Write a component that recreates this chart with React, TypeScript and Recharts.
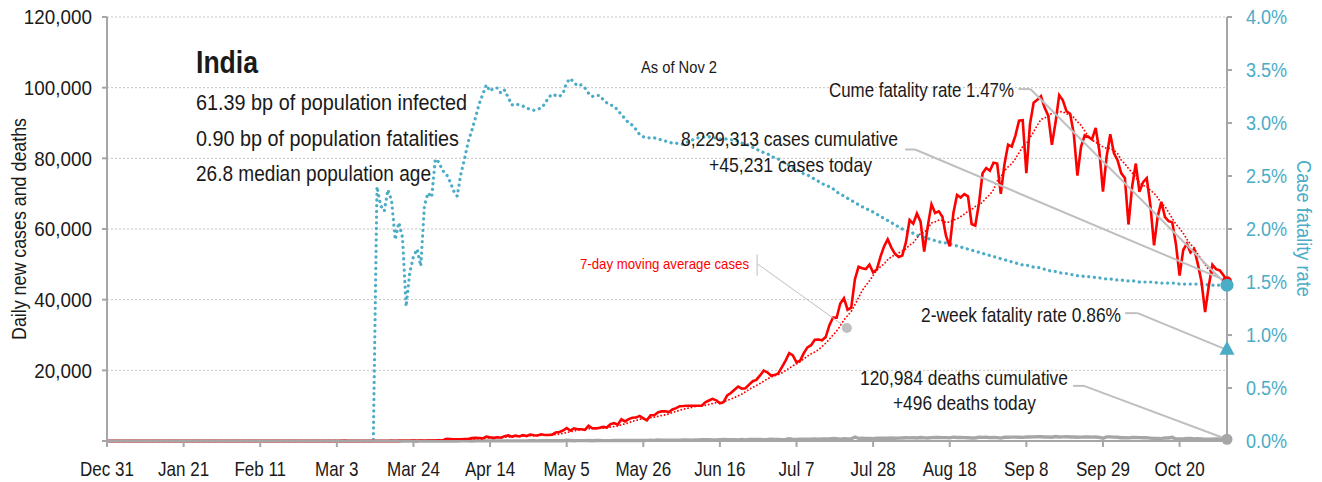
import { CartesianGrid, ComposedChart, Line, ReferenceDot, ReferenceLine, XAxis, YAxis } from "recharts";

const FONT = "'Liberation Sans', Arial, sans-serif";
const TEAL = "#4BACC6";
const RED = "#FF0000";
const GRAY = "#A6A6A6";
const LEADER = "#BFBFBF";
const INK = "#1a1a1a";

const tickLabels = ["Dec 31", "Jan 21", "Feb 11", "Mar 3", "Mar 24", "Apr 14", "May 5", "May 26", "Jun 16", "Jul 7", "Jul 28", "Aug 18", "Sep 8", "Sep 29", "Oct 20"];

// daily new cases, one value per day from Dec 31 to Nov 2
const cases = [
  0, 0, 0, 0, 0, 0, 0, 0, 0, 0,
  0, 0, 0, 0, 0, 0, 0, 0, 0, 0,
  0, 0, 0, 0, 0, 0, 0, 0, 0, 0,
  0, 1, 0, 0, 1, 1, 0, 0, 0, 0,
  0, 0, 0, 0, 0, 0, 0, 0, 0, 0,
  0, 0, 0, 0, 0, 0, 0, 0, 0, 0,
  0, 0, 0, 2, 1, 22, 2, 1, 3, 5,
  9, 15, 8, 11, 9, 20, 11, 6, 23, 14,
  38, 50, 86, 66, 103, 37, 121, 70, 160, 100,
  112, 227, 146, 601, 545, 478, 515, 506, 571, 565,
  813, 871, 854, 758, 1243, 1031, 886, 1061, 922, 1371,
  1580, 1239, 1537, 1292, 1667, 1408, 1835, 1607, 1568, 1902,
  1705, 1718, 1801, 2396, 2564, 2952, 3656, 2971, 3602, 3344,
  3339, 3175, 4311, 3592, 3562, 3726, 3991, 3808, 4794, 5049,
  4628, 6147, 5553, 6198, 6568, 6629, 7111, 6414, 5843, 7293,
  7300, 8105, 8380, 8392, 8171, 8909, 9304, 9851, 9887, 9971,
  9983, 9987, 9985, 9996, 10956, 11458, 11929, 11502, 10667, 10974,
  12881, 13586, 14516, 15413, 14821, 14933, 15968, 16922, 17296, 18552,
  19906, 19459, 18522, 18653, 19148, 20903, 22771, 24850, 24248, 22252,
  22752, 24879, 26506, 27114, 28637, 28701, 28498, 29429, 32695, 34956,
  34884, 38902, 40425, 37148, 37724, 45720, 49310, 48916, 48661, 49931,
  47703, 48513, 52123, 55079, 57118, 54736, 52972, 52050, 52509, 56282,
  62538, 61537, 64399, 62064, 53601, 60963, 66999, 64553, 65002, 63490,
  57981, 55079, 64531, 69652, 68898, 69878, 69239, 61408, 60975, 67151,
  75760, 77266, 76472, 78761, 78512, 69921, 78357, 83883, 83341, 86432,
  90632, 90802, 75809, 89706, 95735, 96551, 97570, 94372, 92071, 83809,
  90123, 97894, 96424, 93337, 92605, 86961, 75083, 83347, 86508, 86052,
  85362, 88600, 82170, 70589, 80472, 86821, 81484, 79476, 75829, 74442,
  61267, 72049, 78524, 70496, 73272, 74383, 66732, 55342, 63509, 67708,
  63371, 62212, 61871, 55722, 46790, 54044, 55838, 53370, 54366, 50129,
  45148, 36470, 43893, 49881, 48648, 48268, 46963, 45231,
];

// 7-day moving average of cases
const movingAvg = [
  0, 0, 0, 0, 0, 0, 0, 0, 0, 0,
  0, 0, 0, 0, 0, 0, 0, 0, 0, 0,
  0, 0, 0, 0, 0, 0, 0, 0, 0, 0,
  0, 0, 0, 0, 0, 0, 0, 0, 0, 0,
  0, 0, 0, 0, 0, 0, 0, 0, 0, 0,
  0, 0, 0, 0, 0, 0, 0, 0, 0, 0,
  0, 0, 0, 0, 0, 4, 4, 4, 4, 5,
  6, 5, 6, 7, 9, 11, 12, 11, 13, 13,
  17, 23, 35, 40, 54, 56, 67, 76, 92, 97,
  110, 120, 134, 202, 265, 324, 372, 434, 480, 540,
  570, 617, 671, 705, 811, 876, 922, 958, 965, 1039,
  1156, 1156, 1228, 1286, 1373, 1442, 1508, 1512, 1559, 1611,
  1670, 1678, 1734, 1814, 1951, 2148, 2399, 2580, 2849, 3069,
  3204, 3291, 3485, 3476, 3561, 3578, 3671, 3738, 3969, 4075,
  4223, 4592, 4853, 5168, 5562, 5825, 6119, 6374, 6331, 6579,
  6737, 6956, 7207, 7390, 7641, 8079, 8366, 8730, 8985, 9212,
  9439, 9699, 9853, 9951, 10109, 10334, 10613, 10830, 10928, 11069,
  11481, 11857, 12294, 12791, 13265, 13875, 14588, 15166, 15696, 16272,
  16914, 17577, 18089, 18473, 18791, 19306, 19909, 20615, 21299, 21832,
  22418, 23236, 24037, 24657, 25198, 25834, 26727, 27681, 28797, 30004,
  31114, 32581, 34256, 35491, 36676, 38537, 40588, 42592, 43986, 45344,
  46852, 48393, 49308, 50132, 51304, 52172, 52606, 53227, 53798, 54392,
  55458, 56089, 57470, 58768, 58990, 60198, 61729, 62017, 62512, 62382,
  61798, 62010, 62519, 62898, 63519, 64216, 65037, 65526, 66369, 66743,
  67616, 68811, 69753, 71113, 73557, 74835, 76436, 77596, 78464, 79887,
  81583, 83338, 84179, 85801, 87494, 89381, 90972, 91506, 91688, 92831,
  92890, 93199, 93180, 92576, 92323, 91593, 90347, 89379, 87752, 86270,
  85131, 84559, 83875, 83233, 82822, 82867, 82214, 81373, 79549, 78445,
  77113, 75910, 74724, 73155, 72268, 72062, 70960, 70114, 68894, 67349,
  66331, 64751, 62964, 61391, 60169, 58817, 57121, 55692, 54572, 52894,
  51384, 49909, 48459, 47608, 46934, 46062, 45610, 45622,
];

// daily deaths
const deaths = [
  0, 0, 0, 0, 0, 0, 0, 0, 0, 0,
  0, 0, 0, 0, 0, 0, 0, 0, 0, 0,
  0, 0, 0, 0, 0, 0, 0, 0, 0, 0,
  0, 0, 0, 0, 0, 0, 0, 0, 0, 0,
  0, 0, 0, 0, 0, 0, 0, 0, 0, 0,
  0, 0, 0, 0, 0, 0, 0, 0, 0, 0,
  0, 0, 0, 0, 0, 0, 0, 0, 0, 0,
  0, 0, 0, 1, 1, 0, 0, 0, 1, 0,
  1, 1, 0, 3, 0, 2, 3, 3, 7, 5,
  5, 4, 18, 6, 21, 16, 21, 30, 31, 35,
  20, 33, 40, 40, 35, 31, 51, 38, 33, 37,
  36, 36, 40, 44, 38, 41, 51, 56, 49, 62,
  62, 73, 67, 72, 83, 83, 195, 126, 89, 103,
  95, 116, 128, 87, 122, 134, 103, 100, 120, 157,
  157, 134, 132, 140, 148, 137, 147, 146, 170, 194,
  175, 265, 193, 230, 204, 217, 259, 260, 273, 287,
  261, 266, 274, 357, 396, 386, 311, 325, 380, 420,
  343, 336, 375, 306, 445, 312, 465, 418, 407, 410,
  384, 410, 507, 418, 434, 379, 442, 613, 425, 467,
  482, 487, 475, 519, 551, 500, 553, 582, 606, 687,
  671, 543, 681, 587, 648, 1129, 740, 757, 705, 708,
  654, 768, 775, 779, 764, 853, 771, 803, 857, 904,
  886, 933, 861, 1007, 871, 834, 942, 1007, 996, 944,
  941, 876, 1092, 977, 983, 945, 912, 836, 848, 1059,
  1023, 1065, 948, 1021, 971, 819, 1045, 1043, 1096, 1089,
  1065, 1016, 1133, 1115, 1172, 1209, 1201, 1114, 1136, 1054,
  1283, 1132, 1174, 1247, 1133, 1130, 1053, 1085, 1129, 1141,
  1089, 1124, 1039, 776, 1179, 1181, 1095, 1069, 940, 903,
  884, 986, 971, 964, 926, 918, 816, 706, 730, 680,
  895, 837, 1033, 579, 587, 587, 702, 690, 578, 650,
  587, 488, 480, 517, 551, 563, 470, 496,
];

// cumulative case fatality rate, %
const fatalityRate = [
  0, 0, 0, 0, 0, 0, 0, 0, 0, 0,
  0, 0, 0, 0, 0, 0, 0, 0, 0, 0,
  0, 0, 0, 0, 0, 0, 0, 0, 0, 0,
  0, 0, 0, 0, 0, 0, 0, 0, 0, 0,
  0, 0, 0, 0, 0, 0, 0, 0, 0, 0,
  0, 0, 0, 0, 0, 0, 0, 0, 0, 0,
  0, 0, 0, 0, 0, 0, 0, 0, 0, 0,
  0, 0, 0, 0, 2.40, 2.22, 2.17, 2.37, 2.27, 1.90,
  2.06, 1.92, 1.27, 1.59, 1.74, 1.81, 1.65, 2.22, 2.34, 2.30,
  2.66, 2.63, 2.55, 2.52, 2.45, 2.36, 2.31, 2.52, 2.66, 2.82,
  2.93, 3.05, 3.18, 3.27, 3.36, 3.30, 3.33, 3.33, 3.28, 3.31,
  3.24, 3.17, 3.18, 3.17, 3.16, 3.14, 3.13, 3.12, 3.13, 3.14,
  3.18, 3.24, 3.27, 3.26, 3.25, 3.28, 3.38, 3.42, 3.38, 3.35,
  3.36, 3.33, 3.28, 3.25, 3.26, 3.26, 3.22, 3.19, 3.17, 3.16,
  3.12, 3.08, 3.04, 3.00, 2.98, 2.94, 2.89, 2.87, 2.86, 2.86,
  2.86, 2.85, 2.84, 2.83, 2.82, 2.81, 2.81, 2.80, 2.80, 2.82,
  2.83, 2.85, 2.86, 2.86, 2.87, 2.87, 2.86, 2.86, 2.85, 2.85,
  2.85, 2.84, 2.84, 2.83, 2.81, 2.80, 2.79, 2.77, 2.75, 2.74,
  2.72, 2.71, 2.69, 2.67, 2.66, 2.64, 2.62, 2.60, 2.58, 2.56,
  2.54, 2.52, 2.51, 2.49, 2.47, 2.45, 2.43, 2.41, 2.40, 2.38,
  2.35, 2.33, 2.31, 2.29, 2.27, 2.25, 2.23, 2.21, 2.19, 2.18,
  2.16, 2.14, 2.12, 2.10, 2.08, 2.06, 2.04, 2.02, 2.00, 1.99,
  1.97, 1.96, 1.94, 1.93, 1.92, 1.91, 1.90, 1.89, 1.88, 1.87,
  1.87, 1.86, 1.85, 1.84, 1.83, 1.82, 1.81, 1.80, 1.79, 1.78,
  1.77, 1.76, 1.75, 1.74, 1.73, 1.72, 1.71, 1.70, 1.69, 1.68,
  1.67, 1.66, 1.66, 1.65, 1.64, 1.64, 1.63, 1.62, 1.61, 1.60,
  1.60, 1.59, 1.58, 1.58, 1.57, 1.57, 1.56, 1.56, 1.55, 1.55,
  1.55, 1.54, 1.54, 1.53, 1.53, 1.53, 1.52, 1.52, 1.52, 1.51,
  1.51, 1.51, 1.51, 1.50, 1.50, 1.50, 1.50, 1.50, 1.49, 1.49,
  1.49, 1.49, 1.49, 1.49, 1.48, 1.48, 1.48, 1.48, 1.48, 1.48,
  1.48, 1.48, 1.47, 1.47, 1.47, 1.47, 1.47, 1.47,
];

const twoWeekRate = 0.86;

const rows = cases.map((c, i) => ({ day: i, cases: c, avg: movingAvg[i], deaths: deaths[i], cfr: fatalityRate[i] }));
const lastDay = cases.length - 1;
const xTicks = tickLabels.map((_, i) => i * 21);

// condensed-looking tick labels (no narrow font installed, so squeeze horizontally)
const XTick = (p: any) => (
  <text transform={`translate(${p.x},${p.y}) scale(0.83,1)`} textAnchor="middle" dy="0.71em" fontSize={20.5} fill={INK} fontFamily={FONT}>
    {tickLabels[Math.round(p.payload.value / 21)]}
  </text>
);
const LeftTick = (p: any) =>
  p.payload.value === 0 ? null : (
    <text transform={`translate(${p.x},${p.y}) scale(0.92,1)`} textAnchor="end" dy="0.355em" fontSize={20.5} fill={INK} fontFamily={FONT}>
      {p.payload.value.toLocaleString("en-US")}
    </text>
  );
const RightTick = (p: any) => (
  <text transform={`translate(${p.x},${p.y}) scale(0.88,1)`} textAnchor="start" dy="0.355em" fontSize={20.5} fill={TEAL} fontFamily={FONT}>
    {p.payload.value.toFixed(1) + "%"}
  </text>
);

const Triangle = (p: any) => (
  <polygon points={`${p.cx},${p.cy - 9} ${p.cx - 7.5},${p.cy + 5} ${p.cx + 7.5},${p.cy + 5}`} fill={TEAL} />
);

// annotation text: left x, baseline y, size, fitted width
const notes = [
  { t: "India", x: 196, y: 73, s: 31, w: 62, bold: true },
  { t: "61.39 bp of population infected", x: 196, y: 110, s: 22, w: 271 },
  { t: "0.90 bp of population fatalities", x: 196, y: 145.5, s: 22, w: 263 },
  { t: "26.8 median population age", x: 196, y: 180.5, s: 22, w: 235 },
  { t: "As of Nov 2", x: 641, y: 73, s: 16, w: 76 },
  { t: "Cume fatality rate 1.47%", x: 829, y: 97, s: 21, w: 185 },
  { t: "8,229,313 cases cumulative", x: 681, y: 146, s: 21, w: 217 },
  { t: "+45,231 cases today", x: 709, y: 172, s: 21, w: 163 },
  { t: "7-day moving average cases", x: 580, y: 269, s: 15, w: 169, color: RED },
  { t: "2-week fatality rate 0.86%", x: 921, y: 321.5, s: 21, w: 200 },
  { t: "120,984 deaths cumulative", x: 860, y: 385, s: 21, w: 208 },
  { t: "+496 deaths today", x: 893, y: 410, s: 21, w: 143 },
];

export default function App() {
  return (
    <div style={{ position: "absolute", left: 0, top: 0, width: 1322, height: 482, fontFamily: FONT, background: "#fff" }}>
      <ComposedChart width={1322} height={482} data={rows} margin={{ top: 17, right: 0, bottom: 0, left: 0 }}>
        <CartesianGrid vertical={false} stroke="#C4C4C4" strokeDasharray="2 2" />
        <XAxis
          dataKey="day"
          type="number"
          domain={[0, lastDay]}
          ticks={xTicks}
          height={41}
          tickSize={6}
          tickMargin={14}
          axisLine={{ stroke: GRAY, strokeWidth: 2 }}
          tickLine={{ stroke: GRAY, strokeWidth: 2 }}
          tick={XTick}
        />
        <YAxis
          width={107}
          domain={[0, 120000]}
          ticks={[0, 20000, 40000, 60000, 80000, 100000, 120000]}
          tickSize={5}
          tickMargin={10}
          axisLine={{ stroke: GRAY, strokeWidth: 2 }}
          tickLine={{ stroke: GRAY, strokeWidth: 2 }}
          tick={LeftTick}
        />
        <YAxis
          yAxisId="right"
          orientation="right"
          width={95}
          domain={[0, 4]}
          ticks={[0, 0.5, 1, 1.5, 2, 2.5, 3, 3.5, 4]}
          tickSize={5}
          tickMargin={14}
          axisLine={{ stroke: GRAY, strokeWidth: 2 }}
          tickLine={{ stroke: GRAY, strokeWidth: 2 }}
          tick={RightTick}
        />
        <Line yAxisId="right" dataKey="cfr" stroke={TEAL} strokeWidth={3.2} strokeDasharray="0.1 5.6" strokeLinecap="round" dot={false} isAnimationActive={false} />
        <Line dataKey="deaths" stroke={GRAY} strokeWidth={3.4} dot={false} isAnimationActive={false} />
        <Line dataKey="avg" stroke={RED} strokeWidth={1.8} strokeDasharray="0.1 3.4" strokeLinecap="round" dot={false} isAnimationActive={false} />
        <Line dataKey="cases" stroke={RED} strokeWidth={2.6} dot={false} isAnimationActive={false} />

        {/* leader lines */}
        <ReferenceLine yAxisId="right" segment={[{ x: 249.8, y: 3.32 }, { x: 253.1, y: 3.32 }]} stroke={LEADER} strokeWidth={2} />
        <ReferenceLine yAxisId="right" segment={[{ x: 253.1, y: 3.32 }, { x: lastDay, y: fatalityRate[lastDay] }]} stroke={LEADER} strokeWidth={2} />
        <ReferenceLine segment={[{ x: 218.8, y: 82500 }, { x: 221.5, y: 82500 }]} stroke={LEADER} strokeWidth={2} />
        <ReferenceLine segment={[{ x: 221.5, y: 82500 }, { x: lastDay, y: cases[lastDay] }]} stroke={LEADER} strokeWidth={2} />
        <ReferenceLine segment={[{ x: 178.2, y: 52800 }, { x: 178.2, y: 46800 }]} stroke={LEADER} strokeWidth={1} />
        <ReferenceLine segment={[{ x: 178.2, y: 50200 }, { x: 202.8, y: 32000 }]} stroke={LEADER} strokeWidth={1} />
        <ReferenceLine yAxisId="right" segment={[{ x: 279.1, y: 1.206 }, { x: 282.5, y: 1.206 }]} stroke={LEADER} strokeWidth={2} />
        <ReferenceLine yAxisId="right" segment={[{ x: 282.5, y: 1.206 }, { x: lastDay, y: twoWeekRate }]} stroke={LEADER} strokeWidth={2} />
        <ReferenceLine segment={[{ x: 264.8, y: 15600 }, { x: 267.8, y: 15600 }]} stroke={LEADER} strokeWidth={2} />
        <ReferenceLine segment={[{ x: 267.8, y: 15600 }, { x: lastDay, y: deaths[lastDay] }]} stroke={LEADER} strokeWidth={2} />

        <ReferenceDot x={202.8} y={32000} r={5} fill={LEADER} stroke="none" />
        <ReferenceDot x={lastDay} y={cases[lastDay]} r={5} fill={RED} stroke="none" />
        <ReferenceDot yAxisId="right" x={lastDay} y={fatalityRate[lastDay]} r={6.5} fill={TEAL} stroke="none" />
        <ReferenceDot yAxisId="right" x={lastDay} y={twoWeekRate} r={6} shape={Triangle} />
        <ReferenceDot x={lastDay} y={deaths[lastDay]} r={5.5} fill={GRAY} stroke="none" />
      </ComposedChart>

      <svg width={1322} height={482} style={{ position: "absolute", left: 0, top: 0, pointerEvents: "none" }} fontFamily={FONT}>
        <text transform="translate(25.5,340) rotate(-90)" fontSize={19.5} fill={INK} textLength={222} lengthAdjust="spacingAndGlyphs">
          Daily new cases and deaths
        </text>
        <text transform="translate(1297,160) rotate(90)" fontSize={19.5} fill={TEAL} textLength={137} lengthAdjust="spacingAndGlyphs">
          Case fatality rate
        </text>
        {notes.map((n) => (
          <text key={n.t} x={n.x} y={n.y} fontSize={n.s} fontWeight={n.bold ? 700 : 400} fill={n.color || INK} textLength={n.w} lengthAdjust="spacingAndGlyphs">
            {n.t}
          </text>
        ))}
      </svg>
    </div>
  );
}
